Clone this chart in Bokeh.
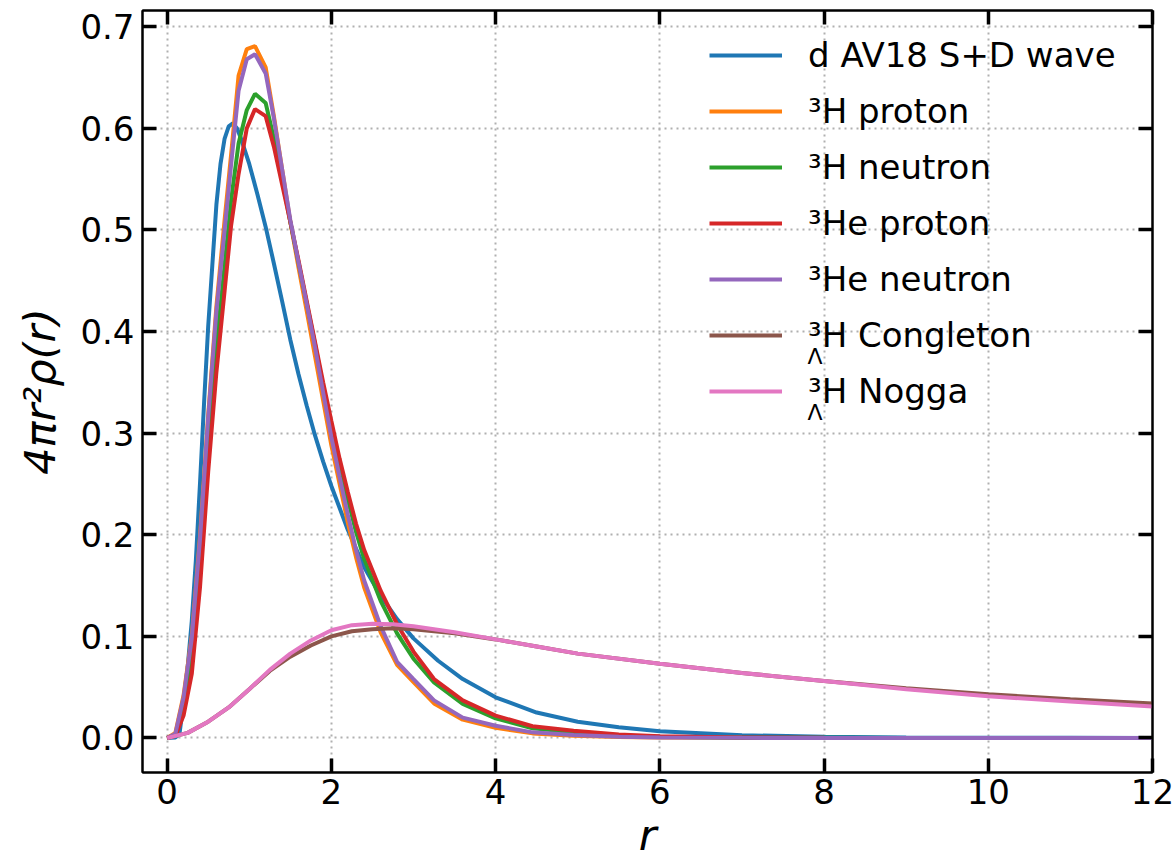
from bokeh.plotting import figure
from bokeh.models import (Range1d, LinearAxis, FixedTicker, PrintfTickFormatter,
                          Legend, LegendItem, Label, CustomLabelingPolicy)
from bokeh.embed import file_html
from bokeh.resources import INLINE

# ---------------- data ----------------
r_d = [0, 0.1, 0.15, 0.2, 0.25, 0.3, 0.35, 0.4, 0.45, 0.5, 0.55, 0.6, 0.65, 0.7,
       0.75, 0.8, 0.85, 0.9, 1.0, 1.1, 1.2, 1.3, 1.4, 1.5, 1.6, 1.7, 1.8, 1.9,
       2.0, 2.2, 2.4, 2.6, 2.8, 3.0, 3.3, 3.6, 4.0, 4.5, 5.0, 5.5, 6.0, 7.0,
       8.0, 9.0, 10.0, 11.0, 12.0]
d_av18 = [0, 0.0005, 0.004, 0.035, 0.07, 0.115, 0.175, 0.25, 0.33, 0.405, 0.465,
          0.525, 0.565, 0.59, 0.602, 0.605, 0.6, 0.59, 0.565, 0.535, 0.503, 0.467,
          0.43, 0.392, 0.358, 0.327, 0.298, 0.272, 0.248, 0.205, 0.168, 0.14,
          0.117, 0.098, 0.076, 0.058, 0.040, 0.025, 0.016, 0.0105, 0.0065,
          0.0027, 0.0011, 0.0005, 0.0002, 0.0001, 0.0]

r_3 = [0, 0.1, 0.2, 0.3, 0.4, 0.5, 0.6, 0.7, 0.78, 0.87, 0.97, 1.07, 1.2, 1.3,
       1.4, 1.5, 1.6, 1.7, 1.8, 1.9, 2.0, 2.1, 2.2, 2.3, 2.4, 2.6, 2.8, 3.0,
       3.25, 3.6, 4.0, 4.45, 4.95, 5.5, 6.0, 7.0, 8.0, 9.0, 10.0, 11.0, 12.0]
h3_proton = [0, 0.005, 0.042, 0.10, 0.198, 0.318, 0.425, 0.51, 0.575, 0.652,
             0.678, 0.681, 0.660, 0.612, 0.56, 0.508, 0.463, 0.42, 0.376, 0.332,
             0.288, 0.25, 0.212, 0.178, 0.148, 0.104, 0.072, 0.055, 0.034, 0.018,
             0.010, 0.0045, 0.0022, 0.0009, 0.0004, 0.0001, 0, 0, 0, 0, 0]
h3_neutron = [0, 0.003, 0.03, 0.08, 0.17, 0.285, 0.385, 0.465, 0.53, 0.585,
              0.618, 0.634, 0.625, 0.59, 0.55, 0.508, 0.468, 0.428, 0.388, 0.346,
              0.305, 0.268, 0.235, 0.203, 0.176, 0.135, 0.103, 0.078, 0.0547,
              0.0334, 0.0193, 0.0095, 0.0055, 0.0025, 0.0012, 0.0003, 0.0001,
              0, 0, 0, 0]
he3_proton = [0, 0.002, 0.022, 0.063, 0.148, 0.262, 0.36, 0.44, 0.505, 0.555,
              0.600, 0.619, 0.612, 0.582, 0.545, 0.508, 0.47, 0.43, 0.39, 0.35,
              0.312, 0.275, 0.242, 0.211, 0.185, 0.145, 0.112, 0.085, 0.058,
              0.037, 0.022, 0.0115, 0.0072, 0.0035, 0.0018, 0.0005, 0.0001,
              0, 0, 0, 0]
he3_neutron = [0, 0.004, 0.04, 0.098, 0.195, 0.315, 0.42, 0.50, 0.565, 0.637,
               0.668, 0.673, 0.654, 0.61, 0.56, 0.51, 0.468, 0.427, 0.385, 0.34,
               0.296, 0.257, 0.22, 0.185, 0.155, 0.11, 0.075, 0.058, 0.037,
               0.020, 0.012, 0.0055, 0.003, 0.0012, 0.0005, 0.0001, 0, 0, 0, 0, 0]

r_l = [0, 0.25, 0.5, 0.75, 1.0, 1.25, 1.5, 1.75, 2.0, 2.25, 2.5, 2.75, 3.0, 3.5,
       4.0, 4.5, 5.0, 6.0, 7.0, 8.0, 9.0, 10.0, 11.0, 12.0]
hl_congleton = [0, 0.005, 0.016, 0.030, 0.048, 0.066, 0.080, 0.091, 0.100,
                0.105, 0.107, 0.108, 0.107, 0.103, 0.097, 0.090, 0.083, 0.073,
                0.064, 0.056, 0.049, 0.043, 0.038, 0.034]
hl_nogga = [0, 0.005, 0.016, 0.030, 0.048, 0.067, 0.083, 0.096, 0.106, 0.111,
            0.1125, 0.112, 0.110, 0.104, 0.097, 0.090, 0.083, 0.073, 0.064,
            0.056, 0.048, 0.041, 0.036, 0.031]

x_ticks = [0, 2, 4, 6, 8, 10, 12]
y_ticks = [0.0, 0.1, 0.2, 0.3, 0.4, 0.5, 0.6, 0.7]

series = [
    ("d AV18 S+D wave", r_d, d_av18, "#1f77b4"),
    ("³H proton", r_3, h3_proton, "#ff7f0e"),
    ("³H neutron", r_3, h3_neutron, "#2ca02c"),
    ("³He proton", r_3, he3_proton, "#d62728"),
    ("³He neutron", r_3, he3_neutron, "#9467bd"),
    ("³H Congleton", r_l, hl_congleton, "#8c564b"),
    ("³H Nogga", r_l, hl_nogga, "#e377c2"),
]

FONT = "DejaVu Sans"

p = figure(width=1176, height=862, output_backend="svg", toolbar_location=None,
           x_range=Range1d(-0.3, 12), y_range=Range1d(-0.034, 0.716),
           min_border_left=142, min_border_right=24, min_border_top=10,
           min_border_bottom=90)
p.background_fill_color = "white"
p.border_fill_color = "white"
p.outline_line_color = "black"
p.outline_line_width = 2

bottom_ax = p.below[0]
left_ax = p.left[0]
xgrid = p.xgrid[0]
ygrid = p.ygrid[0]

xt = FixedTicker(ticks=x_ticks)
yt = FixedTicker(ticks=y_ticks)

bottom_ax.ticker = xt
left_ax.ticker = yt
bottom_ax.formatter = PrintfTickFormatter(format="%d")
left_ax.formatter = PrintfTickFormatter(format="%.1f")

no_labels = "for (const i of indices) { indices.unset(i) }\nreturn indices"
top_ax = LinearAxis(ticker=xt, major_label_policy=CustomLabelingPolicy(code=no_labels))
right_ax = LinearAxis(ticker=yt, major_label_policy=CustomLabelingPolicy(code=no_labels))
p.add_layout(top_ax, "above")
p.add_layout(right_ax, "right")

for ax in [bottom_ax, left_ax, top_ax, right_ax]:
    ax.major_tick_in = 14
    ax.major_tick_out = 0
    ax.major_tick_line_width = 3.5
    ax.major_tick_line_color = "black"
    ax.minor_tick_line_color = None
    ax.axis_line_width = 2
    ax.axis_line_color = "black"
    ax.major_label_text_font = FONT
    ax.major_label_text_font_size = "34px"
    ax.major_label_text_color = "black"

for ax in [top_ax, right_ax]:
    ax.major_label_standoff = 0
    ax.major_label_text_font_size = "0px"

bottom_ax.major_label_standoff = 6
left_ax.major_label_standoff = 8

bottom_ax.axis_label = "r"
left_ax.axis_label = "4πr²ρ(r)"
for ax in [bottom_ax, left_ax]:
    ax.axis_label_text_font = FONT
    ax.axis_label_text_font_style = "italic"
    ax.axis_label_text_font_size = "43px"
    ax.axis_label_text_color = "black"
bottom_ax.axis_label_standoff = 3
left_ax.axis_label_standoff = 12

xgrid.ticker = xt
ygrid.ticker = yt
for g in [xgrid, ygrid]:
    g.grid_line_color = "#b0b0b0"
    g.grid_line_width = 2
    g.grid_line_dash = "2 4"

items = []
for label, xs, ys, color in series:
    rr = p.line(xs, ys, line_color=color, line_width=4)
    items.append(LegendItem(label=label, renderers=[rr]))

legend = Legend(items=items, location=(567, 361))
legend.label_text_font = FONT
legend.label_text_font_size = "34px"
legend.label_text_color = "black"
legend.glyph_width = 73
legend.glyph_height = 20
legend.label_standoff = 26
legend.spacing = 16
legend.padding = 0
legend.margin = 0
legend.border_line_color = None
legend.background_fill_color = None
p.add_layout(legend)

# subscript Lambda for the hypertriton legend entries
for yb in [772 - 356, 772 - 412]:
    p.add_layout(Label(x=665, y=yb, x_units="screen", y_units="screen",
                       text="Λ", text_font=FONT, text_font_size="22px",
                       text_color="black", text_baseline="alphabetic",
                       level="overlay"))

open("out.html", "w").write(file_html(p, INLINE))
